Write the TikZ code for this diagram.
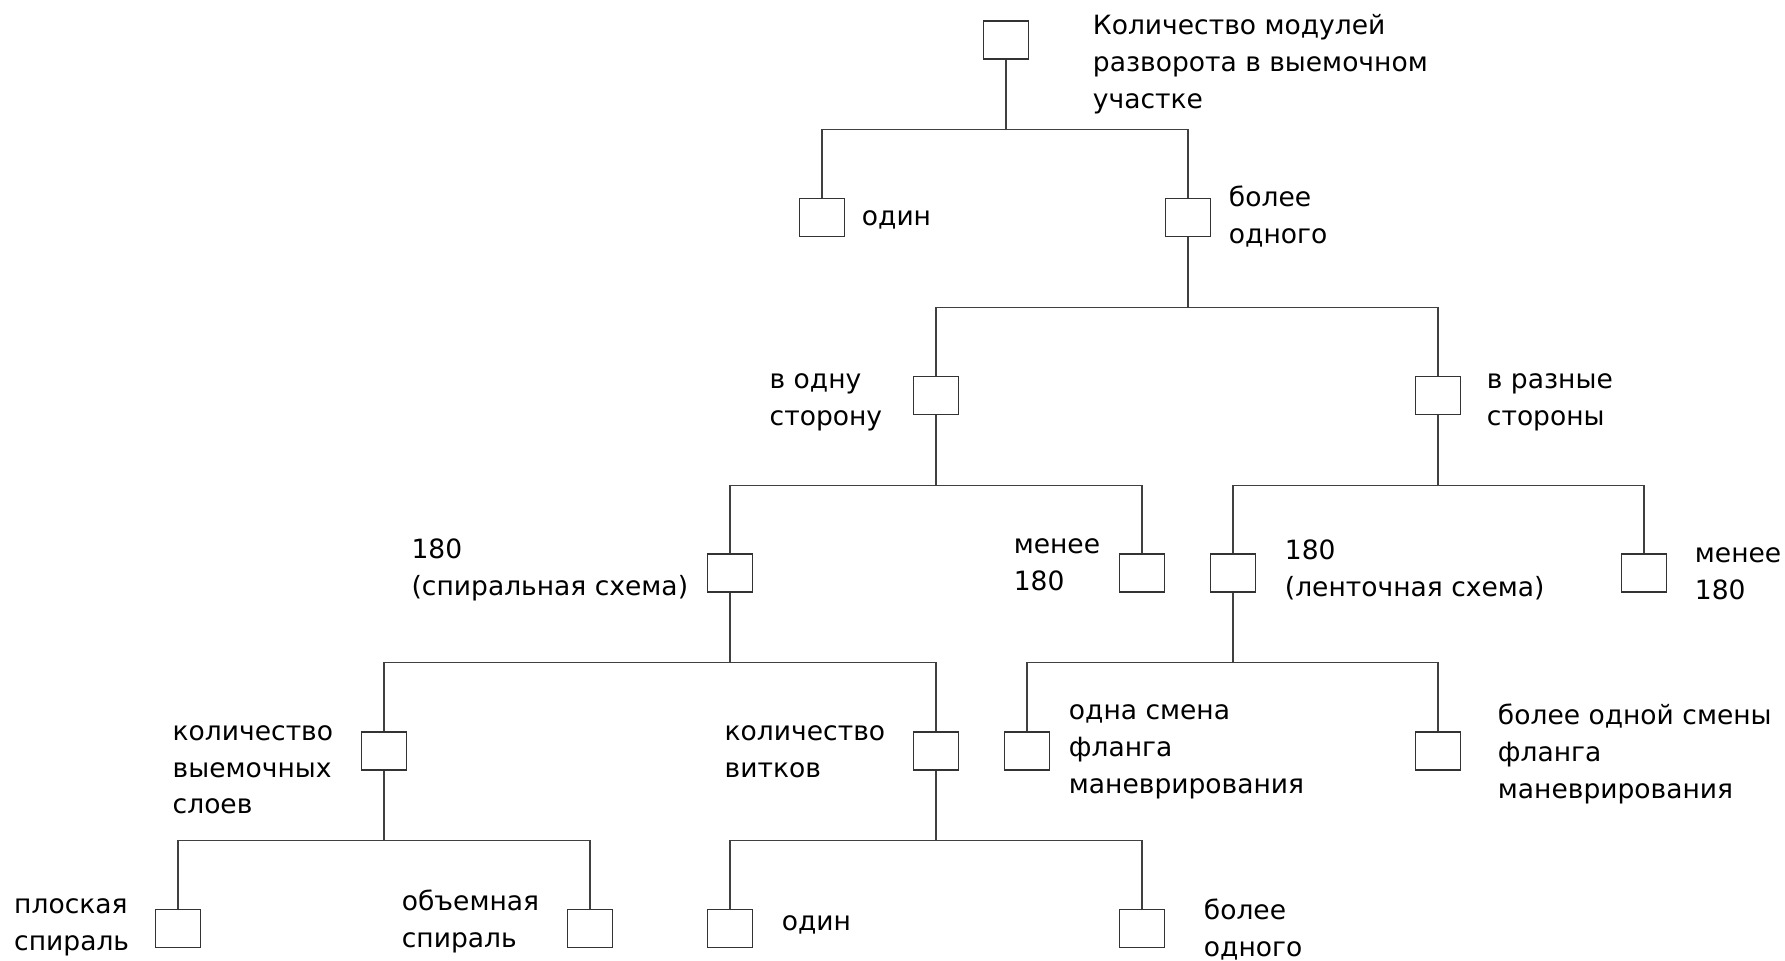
\documentclass[tikz,border=0pt]{standalone}
\usepackage{fontspec}
\setmainfont{DejaVu Sans}
\usetikzlibrary{positioning}
\tikzstyle{choice} = [rectangle, minimum width=0.45cm, minimum height=0.38cm, inner sep=0pt, draw=black!80, line width=0.4pt]
\tikzstyle{note} = [font=\fontsize{7.55}{10.5}\selectfont, align=left, inner sep=0pt]
\tikzstyle{branch} = [draw=black!75, line width=0.35pt]

\begin{document}
\begin{tikzpicture}[node distance=1.777cm]
  \useasboundingbox (0,0) rectangle (17.85,-9.60);
  \node (root) [choice] at (10.06,-0.40) {};
  \node (one) [choice, below of=root, xshift=-1.84cm] {};
  \node (many) [choice, below of=root, xshift=1.82cm] {};
  \node (same) [choice, below of=many, xshift=-2.52cm] {};
  \node (opposite) [choice, below of=many, xshift=2.50cm] {};
  \node (spiral) [choice, below of=same, xshift=-2.06cm] {};
  \node (less_same) [choice, below of=same, xshift=2.06cm] {};
  \node (ribbon) [choice, below of=opposite, xshift=-2.05cm] {};
  \node (less_opp) [choice, below of=opposite, xshift=2.06cm] {};
  \node (layers) [choice, below of=spiral, xshift=-3.46cm] {};
  \node (turns) [choice, below of=spiral, xshift=2.06cm] {};
  \node (flank_one) [choice, below of=ribbon, xshift=-2.06cm] {};
  \node (flank_many) [choice, below of=ribbon, xshift=2.05cm] {};
  \node (flat) [choice, below of=layers, xshift=-2.06cm] {};
  \node (volume) [choice, below of=layers, xshift=2.06cm] {};
  \node (turn_one) [choice, below of=turns, xshift=-2.06cm] {};
  \node (turn_many) [choice, below of=turns, xshift=2.06cm] {};
  % labels
  \node (root_txt) [note, right=0.63cm of root, yshift=-0.24cm] {Количество модулей\\
    разворота в выемочном\\
    участке};
  \node (one_txt) [note, right=0.16cm of one, yshift=-0.025cm] {один};
  \node (many_txt) [note, right=0.17cm of many, yshift=0.01cm] {более\\одного};
  \node (same_txt) [note, left=0.30cm of same, yshift=-0.07cm] {в одну\\сторону};
  \node (opposite_txt) [note, right=0.25cm of opposite, yshift=-0.07cm] {в разные\\стороны};
  \node (spiral_txt) [note, left=0.18cm of spiral, yshift=0.03cm] {180\\(спиральная схема)};
  \node (less_same_txt) [note, left=0.18cm of less_same, yshift=0.08cm] {менее\\180};
  \node (ribbon_txt) [note, right=0.28cm of ribbon, yshift=0.03cm] {180\\(ленточная схема)};
  \node (less_opp_txt) [note, right=0.27cm of less_opp, yshift=-0.01cm] {менее\\180};
  \node (layers_txt) [note, left=0.27cm of layers, yshift=-0.19cm] {количество\\
    выемочных\\
    слоев};
  \node (turns_txt) [note, left=0.27cm of turns, yshift=-0.01cm] {количество\\витков};
  \node (flank_one_txt) [note, right=0.18cm of flank_one, yshift=-0.01cm] {одна смена\\
    фланга\\
    маневрирования};
  \node (flank_many_txt) [note, right=0.36cm of flank_many, yshift=-0.03cm] {более одной смены\\
    фланга\\
    маневрирования};
  \node (flat_txt) [note, left=0.25cm of flat, yshift=0.01cm] {плоская\\спираль};
  \node (volume_txt) [note, left=0.27cm of volume, yshift=0.07cm] {объемная\\спираль};
  \node (turn_one_txt) [note, right=0.28cm of turn_one, yshift=0.035cm] {один};
  \node (turn_many_txt) [note, right=0.38cm of turn_many, yshift=-0.01cm] {более\\одного};
  % branches
  \draw[branch] (root.south) -- ++(0,-0.7) -| (one.north);
  \draw[branch] (root.south) -- ++(0,-0.7) -| (many.north);
  \draw[branch] (many.south) -- ++(0,-0.7) -| (same.north);
  \draw[branch] (many.south) -- ++(0,-0.7) -| (opposite.north);
  \draw[branch] (same.south) -- ++(0,-0.7) -| (spiral.north);
  \draw[branch] (same.south) -- ++(0,-0.7) -| (less_same.north);
  \draw[branch] (opposite.south) -- ++(0,-0.7) -| (ribbon.north);
  \draw[branch] (opposite.south) -- ++(0,-0.7) -| (less_opp.north);
  \draw[branch] (spiral.south) -- ++(0,-0.7) -| (layers.north);
  \draw[branch] (spiral.south) -- ++(0,-0.7) -| (turns.north);
  \draw[branch] (ribbon.south) -- ++(0,-0.7) -| (flank_one.north);
  \draw[branch] (ribbon.south) -- ++(0,-0.7) -| (flank_many.north);
  \draw[branch] (layers.south) -- ++(0,-0.7) -| (flat.north);
  \draw[branch] (layers.south) -- ++(0,-0.7) -| (volume.north);
  \draw[branch] (turns.south) -- ++(0,-0.7) -| (turn_one.north);
  \draw[branch] (turns.south) -- ++(0,-0.7) -| (turn_many.north);
\end{tikzpicture}
\end{document}
